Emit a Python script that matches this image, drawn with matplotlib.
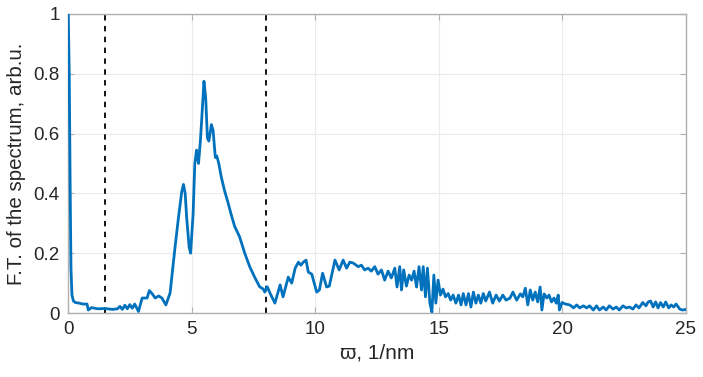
import matplotlib
matplotlib.use("Agg")
import matplotlib.pyplot as plt

# Frequency (1/nm) and F.T. amplitude (arb.u.)
omega = [0.0, 0.05, 0.09, 0.12, 0.16, 0.22, 0.3, 0.45, 0.6, 0.77, 0.82, 0.95, 1.2, 1.5, 1.8, 2.0,
         2.1, 2.2, 2.3, 2.4, 2.5, 2.6, 2.7, 2.85, 3.0, 3.2, 3.29, 3.4, 3.53, 3.67, 3.8, 3.96,
         4.13, 4.33, 4.47, 4.6, 4.67, 4.74, 4.8, 4.9, 4.96, 5.06, 5.13, 5.2, 5.28, 5.36,
         5.44, 5.5, 5.57, 5.64, 5.7, 5.8, 5.87, 5.96, 6.02, 6.1, 6.2, 6.33, 6.47, 6.6,
         6.74, 6.94, 7.15, 7.35, 7.55, 7.75, 7.9, 7.96, 8.06, 8.17, 8.37, 8.58, 8.7,
         8.91, 9.05, 9.19, 9.32, 9.42, 9.52, 9.63, 9.72, 9.86, 10.06, 10.17, 10.3, 10.46,
         10.57, 10.8, 10.97, 11.13, 11.27, 11.4, 11.54, 11.74, 11.87, 12.0, 12.14, 12.27,
         12.41, 12.54, 12.68, 12.81, 12.95, 13.08, 13.22, 13.31, 13.42, 13.49, 13.58,
         13.69, 13.8, 13.9, 14.0, 14.1, 14.2, 14.3, 14.37, 14.46, 14.54, 14.64, 14.72,
         14.8, 14.88, 14.97, 15.07, 15.17, 15.27, 15.38, 15.48, 15.58, 15.69, 15.8, 15.9,
         15.99, 16.1, 16.2, 16.3, 16.4, 16.5, 16.6, 16.7, 16.8, 16.9, 17.05, 17.18, 17.32,
         17.45, 17.59, 17.72, 17.88, 18.0, 18.15, 18.3, 18.4, 18.5, 18.6, 18.7, 18.8,
         18.9, 19.0, 19.1, 19.17, 19.26, 19.37, 19.46, 19.56, 19.66, 19.75, 19.83, 19.88,
         19.99, 20.12, 20.3, 20.45, 20.58, 20.7, 20.85, 20.98, 21.1, 21.25, 21.38, 21.5,
         21.65, 21.77, 21.9, 22.05, 22.18, 22.3, 22.45, 22.58, 22.72, 22.85, 22.98, 23.1,
         23.25, 23.38, 23.47, 23.57, 23.67, 23.77, 23.87, 23.97, 24.08, 24.18, 24.3, 24.4,
         24.5, 24.6, 24.75, 24.85, 25.0]
amplitude = [1.05, 0.8, 0.4, 0.15, 0.06, 0.04, 0.035, 0.033, 0.03, 0.03, 0.01, 0.018, 0.014, 0.015,
             0.012, 0.014, 0.022, 0.012, 0.026, 0.014, 0.028, 0.016, 0.03, 0.005, 0.05, 0.05,
             0.075, 0.065, 0.05, 0.057, 0.05, 0.027, 0.067, 0.22, 0.32, 0.405, 0.43, 0.40,
             0.32, 0.22, 0.20, 0.33, 0.50, 0.545, 0.50, 0.58, 0.69, 0.775, 0.72, 0.585, 0.575,
             0.63, 0.61, 0.52, 0.525, 0.50, 0.455, 0.41, 0.37, 0.33, 0.29, 0.255, 0.20, 0.155,
             0.12, 0.088, 0.08, 0.07, 0.088, 0.067, 0.033, 0.094, 0.054, 0.12, 0.10, 0.15,
             0.17, 0.16, 0.17, 0.177, 0.137, 0.13, 0.07, 0.077, 0.133, 0.087, 0.09, 0.177,
             0.144, 0.177, 0.15, 0.17, 0.167, 0.155, 0.16, 0.144, 0.15, 0.14, 0.155, 0.13,
             0.144, 0.11, 0.14, 0.117, 0.15, 0.087, 0.155, 0.077, 0.144, 0.09, 0.127, 0.11,
             0.14, 0.087, 0.155, 0.077, 0.155, 0.054, 0.15, 0.033, 0.003, 0.127, 0.033, 0.11,
             0.06, 0.08, 0.054, 0.065, 0.043, 0.06, 0.033, 0.06, 0.027, 0.065, 0.027, 0.065,
             0.02, 0.07, 0.033, 0.06, 0.033, 0.065, 0.04, 0.07, 0.033, 0.06, 0.04, 0.06, 0.043,
             0.05, 0.07, 0.043, 0.064, 0.054, 0.083, 0.027, 0.077, 0.043, 0.07, 0.037, 0.087,
             0.01, 0.064, 0.05, 0.06, 0.037, 0.05, 0.033, 0.06, 0.01, 0.035, 0.03, 0.027,
             0.017, 0.027, 0.017, 0.024, 0.017, 0.024, 0.01, 0.024, 0.01, 0.02, 0.01, 0.024,
             0.013, 0.02, 0.01, 0.024, 0.017, 0.02, 0.013, 0.027, 0.017, 0.035, 0.024, 0.037,
             0.04, 0.02, 0.037, 0.017, 0.035, 0.02, 0.037, 0.017, 0.027, 0.02, 0.03, 0.013,
             0.01, 0.012]

# Window boundaries (dashed lines)
window = [1.5, 8.0]

xticks = [0, 5, 10, 15, 20, 25]
yticks = [0, 0.2, 0.4, 0.6, 0.8, 1]
yticklabels = ["0", "0.2", "0.4", "0.6", "0.8", "1"]

plt.rcParams['font.family'] = ['Liberation Sans', 'DejaVu Sans']

fig = plt.figure(figsize=(7.03, 3.77), dpi=100)
ax = fig.add_axes([68/703, 1 - 313/377, (686 - 68)/703, (313 - 14)/377])

ax.plot(omega, amplitude, color='#0072BD', lw=2.0, zorder=3)
for w in window:
    ax.axvline(w, color='black', ls=(0, (3, 3)), lw=1.3, zorder=2)

ax.set_xlim(0, 25)
ax.set_ylim(0, 1)
ax.set_xticks(xticks)
ax.set_yticks(yticks)
ax.set_yticklabels(yticklabels)
ax.grid(True, color='#ebebeb', lw=0.8, zorder=0)
ax.set_axisbelow(True)
for s in ax.spines.values():
    s.set_color('#b0b0b0')
    s.set_linewidth(1.0)
ax.tick_params(direction='in', length=4, color='#b0b0b0', labelsize=13.5,
               labelcolor='#262626', top=True, right=True, pad=6)

ax.set_xlabel('ϖ, 1/nm', fontsize=15, color='#262626', labelpad=4)
ax.set_ylabel('F.T. of the spectrum, arb.u.', fontsize=14.8, color='#262626', labelpad=5)

fig.savefig('out.png', dpi=100)
